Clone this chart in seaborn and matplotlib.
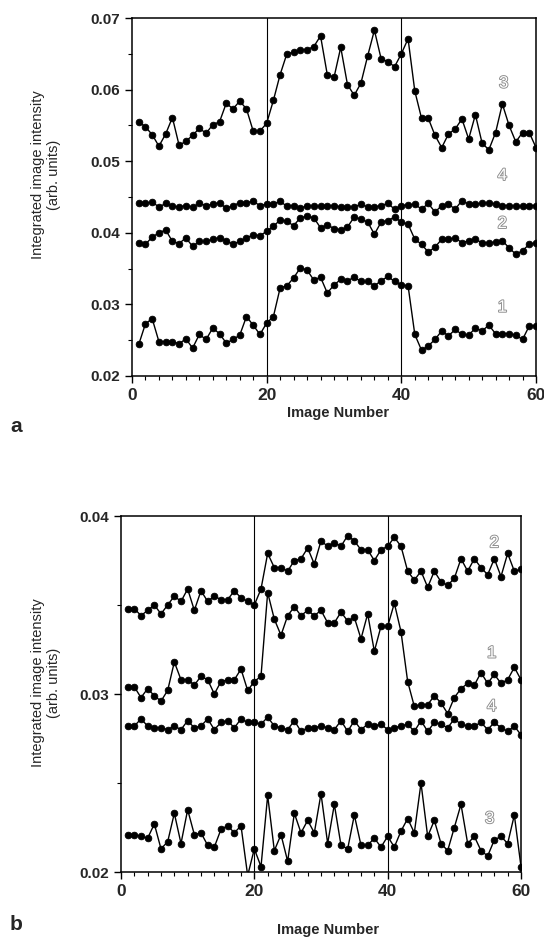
import matplotlib
matplotlib.use("Agg")
import matplotlib.pyplot as plt
import matplotlib.patheffects as pe
import matplotlib.transforms as mtransforms
from matplotlib.ticker import MultipleLocator, FormatStrFormatter
import seaborn as sns

# x positions (image number)
image_number = list(range(1, 61))

# panel a
a_curve1 = [0.0244, 0.0273, 0.0280, 0.0248, 0.0248, 0.0248, 0.0245, 0.0252, 0.0239, 0.0258,
            0.0251, 0.0267, 0.0259, 0.0246, 0.0251, 0.0257, 0.0283, 0.0271, 0.0258, 0.0274,
            0.0283, 0.0323, 0.0326, 0.0337, 0.0351, 0.0348, 0.0334, 0.0338, 0.0316, 0.0327,
            0.0335, 0.0333, 0.0338, 0.0332, 0.0332, 0.0326, 0.0333, 0.0339, 0.0332, 0.0327,
            0.0326, 0.0258, 0.0236, 0.0242, 0.0251, 0.0263, 0.0256, 0.0265, 0.0258, 0.0257,
            0.0267, 0.0263, 0.0271, 0.0259, 0.0259, 0.0259, 0.0257, 0.0251, 0.0270, 0.0270]
a_curve2 = [0.0386, 0.0384, 0.0394, 0.0400, 0.0404, 0.0388, 0.0385, 0.0393, 0.0381, 0.0388,
            0.0388, 0.0391, 0.0393, 0.0389, 0.0384, 0.0388, 0.0393, 0.0397, 0.0396, 0.0402,
            0.0409, 0.0418, 0.0416, 0.0410, 0.0421, 0.0423, 0.0421, 0.0407, 0.0411, 0.0406,
            0.0404, 0.0408, 0.0422, 0.0419, 0.0415, 0.0398, 0.0415, 0.0417, 0.0422, 0.0415,
            0.0412, 0.0391, 0.0384, 0.0373, 0.0380, 0.0391, 0.0391, 0.0393, 0.0386, 0.0389,
            0.0391, 0.0386, 0.0386, 0.0387, 0.0389, 0.0379, 0.0370, 0.0375, 0.0384, 0.0386]
a_curve3 = [0.0555, 0.0548, 0.0537, 0.0521, 0.0538, 0.0561, 0.0522, 0.0528, 0.0536, 0.0546,
            0.0539, 0.0551, 0.0555, 0.0581, 0.0573, 0.0584, 0.0573, 0.0542, 0.0542, 0.0553,
            0.0585, 0.0621, 0.0650, 0.0652, 0.0655, 0.0656, 0.0660, 0.0675, 0.0621, 0.0617,
            0.0659, 0.0607, 0.0592, 0.0609, 0.0647, 0.0683, 0.0643, 0.0639, 0.0632, 0.0650,
            0.0671, 0.0598, 0.0560, 0.0560, 0.0536, 0.0519, 0.0538, 0.0545, 0.0559, 0.0531,
            0.0565, 0.0525, 0.0516, 0.0540, 0.0580, 0.0550, 0.0527, 0.0540, 0.0540, 0.0519]
a_curve4 = [0.0442, 0.0441, 0.0443, 0.0436, 0.0441, 0.0437, 0.0436, 0.0438, 0.0436, 0.0441,
            0.0438, 0.0440, 0.0442, 0.0434, 0.0438, 0.0442, 0.0442, 0.0444, 0.0438, 0.0440,
            0.0440, 0.0444, 0.0437, 0.0438, 0.0434, 0.0438, 0.0437, 0.0437, 0.0437, 0.0438,
            0.0436, 0.0436, 0.0436, 0.0440, 0.0436, 0.0436, 0.0438, 0.0441, 0.0433, 0.0438,
            0.0439, 0.0440, 0.0433, 0.0441, 0.0429, 0.0438, 0.0440, 0.0433, 0.0445, 0.0440,
            0.0440, 0.0441, 0.0442, 0.0440, 0.0438, 0.0438, 0.0437, 0.0437, 0.0438, 0.0438]

# panel b
b_curve1 = [0.0304, 0.0304, 0.0298, 0.0303, 0.0299, 0.0296, 0.0302, 0.0318, 0.0308, 0.0308,
            0.0305, 0.0310, 0.0308, 0.0300, 0.0307, 0.0308, 0.0308, 0.0314, 0.0302, 0.0307,
            0.0310, 0.0357, 0.0342, 0.0333, 0.0344, 0.0349, 0.0344, 0.0347, 0.0344, 0.0347,
            0.0340, 0.0340, 0.0346, 0.0341, 0.0343, 0.0331, 0.0345, 0.0324, 0.0338, 0.0338,
            0.0351, 0.0335, 0.0307, 0.0293, 0.0294, 0.0294, 0.0299, 0.0295, 0.0289, 0.0298,
            0.0303, 0.0306, 0.0305, 0.0312, 0.0306, 0.0311, 0.0306, 0.0308, 0.0315, 0.0308]
b_curve2 = [0.0348, 0.0348, 0.0344, 0.0347, 0.0350, 0.0345, 0.0350, 0.0355, 0.0352, 0.0359,
            0.0347, 0.0358, 0.0352, 0.0355, 0.0353, 0.0353, 0.0358, 0.0354, 0.0352, 0.0350,
            0.0359, 0.0379, 0.0371, 0.0371, 0.0369, 0.0375, 0.0376, 0.0382, 0.0373, 0.0386,
            0.0383, 0.0385, 0.0383, 0.0389, 0.0386, 0.0381, 0.0381, 0.0375, 0.0381, 0.0383,
            0.0388, 0.0383, 0.0369, 0.0364, 0.0369, 0.0360, 0.0369, 0.0363, 0.0361, 0.0365,
            0.0376, 0.0369, 0.0376, 0.0371, 0.0367, 0.0376, 0.0366, 0.0379, 0.0369, 0.0370]
b_curve3 = [0.0221, 0.0221, 0.0220, 0.0219, 0.0227, 0.0213, 0.0217, 0.0233, 0.0216, 0.0235,
            0.0221, 0.0222, 0.0215, 0.0214, 0.0224, 0.0226, 0.0222, 0.0226, 0.0198, 0.0213,
            0.0203, 0.0243, 0.0212, 0.0221, 0.0206, 0.0233, 0.0222, 0.0229, 0.0222, 0.0244,
            0.0216, 0.0238, 0.0215, 0.0213, 0.0232, 0.0215, 0.0215, 0.0219, 0.0214, 0.0220,
            0.0214, 0.0223, 0.0230, 0.0222, 0.0250, 0.0220, 0.0229, 0.0216, 0.0212, 0.0225,
            0.0238, 0.0216, 0.0220, 0.0212, 0.0209, 0.0218, 0.0220, 0.0216, 0.0232, 0.0203]
b_curve4 = [0.0282, 0.0282, 0.0286, 0.0282, 0.0281, 0.0281, 0.0280, 0.0282, 0.0280, 0.0285,
            0.0281, 0.0282, 0.0286, 0.0280, 0.0284, 0.0285, 0.0281, 0.0286, 0.0284, 0.0284,
            0.0283, 0.0287, 0.0282, 0.0281, 0.0280, 0.0285, 0.0279, 0.0281, 0.0281, 0.0282,
            0.0281, 0.0280, 0.0285, 0.0279, 0.0285, 0.0280, 0.0283, 0.0282, 0.0283, 0.0280,
            0.0281, 0.0282, 0.0283, 0.0279, 0.0285, 0.0279, 0.0284, 0.0283, 0.0281, 0.0286,
            0.0283, 0.0282, 0.0282, 0.0284, 0.0280, 0.0284, 0.0281, 0.0279, 0.0282, 0.0277]

# curve labels: (text, x, y)
a_labels = [("3", 55.2, 0.0609), ("4", 55.0, 0.0480), ("2", 55.0, 0.0413), ("1", 55.0, 0.0296)]
b_labels = [("2", 56.0, 0.0385), ("1", 55.6, 0.0323), ("4", 55.6, 0.0293), ("3", 55.3, 0.0230)]

sns.set_style("ticks")
plt.rcParams["font.family"] = ["Liberation Sans", "DejaVu Sans"]

fig = plt.figure(figsize=(5.44, 9.43), dpi=100)
ax_a = fig.add_axes([132 / 544, 1 - 376 / 943, 404 / 544, 358 / 943])
ax_b = fig.add_axes([121 / 544, 1 - 872 / 943, 400 / 544, 356 / 943])


def draw_panel(ax, curves, labels, ylim):
    for vals in curves:
        sns.lineplot(x=image_number, y=vals, ax=ax, color="black", linewidth=1.0,
                     marker="o", markersize=4.8, markeredgecolor="black",
                     markerfacecolor="black", markeredgewidth=0.6)
    ax.axvline(20, color="black", lw=0.8)
    ax.axvline(40, color="black", lw=0.8)
    ax.set_xlim(0, 60)
    ax.set_ylim(*ylim)
    ax.xaxis.set_major_locator(MultipleLocator(20))
    ax.xaxis.set_minor_locator(MultipleLocator(2))
    ax.yaxis.set_major_locator(MultipleLocator(0.01))
    ax.yaxis.set_minor_locator(MultipleLocator(0.005))
    ax.yaxis.set_major_formatter(FormatStrFormatter("%.2f"))
    ax.tick_params(which="major", direction="out", length=5, width=1, color="black")
    ax.tick_params(which="minor", direction="out", length=3, width=0.8, color="black")
    for lab in ax.get_yticklabels():
        lab.set_fontweight("bold")
        lab.set_fontsize(11)
    for lab in ax.get_xticklabels():
        lab.set_fontweight("bold")
        lab.set_fontsize(12.5)
    for sp in ax.spines.values():
        sp.set_visible(True)
        sp.set_color("black")
        sp.set_linewidth(1.1)
    ax.set_xlabel("")
    ax.set_ylabel("")
    for txt, x, y in labels:
        ax.text(x, y, txt, fontsize=12, color="white", ha="center", va="center",
                path_effects=[pe.withStroke(linewidth=1.3, foreground="#8a8a8a")])


draw_panel(ax_a, [a_curve1, a_curve2, a_curve3, a_curve4], a_labels, (0.02, 0.07))
draw_panel(ax_b, [b_curve1, b_curve2, b_curve3, b_curve4], b_labels, (0.02, 0.04))

# keep the last x tick label of panel a inside the figure
fig.canvas.draw()
last = ax_a.get_xticklabels()[-1]
last.set_transform(last.get_transform() + mtransforms.ScaledTranslation(-5 / 100, 0, fig.dpi_scale_trans))

ylab = "Integrated image intensity\n(arb. units)"
fig.text(46 / 544, 1 - 175 / 943, ylab, rotation=90, ha="center", va="center",
         fontsize=10.5, family=["Liberation Sans Narrow", "Liberation Sans"], linespacing=1.1)
fig.text(46 / 544, 1 - 683 / 943, ylab, rotation=90, ha="center", va="center",
         fontsize=10.5, family=["Liberation Sans Narrow", "Liberation Sans"], linespacing=1.1)

fig.text(338 / 544, 1 - 413 / 943, "Image Number", ha="center", va="center",
         fontsize=10.5, fontweight="bold")
fig.text(328 / 544, 1 - 930 / 943, "Image Number", ha="center", va="center",
         fontsize=10.5, fontweight="bold")

fig.text(16 / 544, 1 - 427 / 943, "a", ha="center", va="center", fontsize=15, fontweight="bold")
fig.text(16 / 544, 1 - 925 / 943, "b", ha="center", va="center", fontsize=15, fontweight="bold")

fig.savefig("out.png", dpi=100)
